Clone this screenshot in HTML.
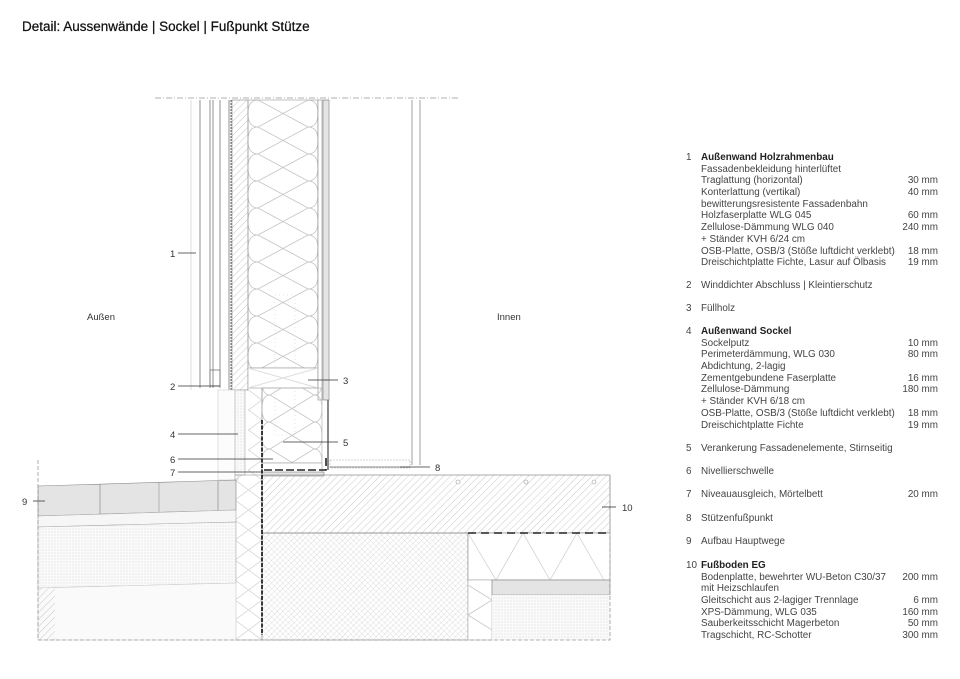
<!DOCTYPE html>
<html><head><meta charset="utf-8"><style>
body{margin:0;width:960px;height:679px;background:#fff;overflow:hidden;font-family:"Liberation Sans",sans-serif;position:relative}
.t{position:absolute;left:22px;top:19px;font-size:13.5px;color:#111;-webkit-text-stroke:0.25px #111}
.lg{position:absolute;left:686px;font-size:9.9px;color:#444;line-height:11.7px;width:252px}
.lg .n{position:absolute;left:0}
.lg .r{position:absolute;right:0}
.lg div{position:relative;padding-left:15px;height:11.7px;white-space:nowrap}
.lg b{color:#222}
</style></head><body>
<div class="t">Detail: Aussenwände | Sockel | Fußpunkt Stütze</div>
<svg width="960" height="679" style="position:absolute;left:0;top:0" font-family="Liberation Sans" font-size="9.5" fill="#333">
<defs>
<pattern id="hd" width="5" height="5" patternUnits="userSpaceOnUse" patternTransform="rotate(45)"><line x1="0" y1="0" x2="0" y2="5" stroke="#bbb" stroke-width="0.8"/></pattern>
<pattern id="cx" width="4" height="4" patternUnits="userSpaceOnUse" patternTransform="rotate(45)"><path d="M0 0V4M0 0H4" stroke="#c8c8c8" stroke-width="0.6"/></pattern>
<pattern id="dt" width="3" height="3" patternUnits="userSpaceOnUse"><rect width="3" height="3" fill="#fafafa"/><circle cx="1" cy="1" r="0.45" fill="#ccc"/></pattern>
<pattern id="dd" width="2" height="2" patternUnits="userSpaceOnUse"><rect width="2" height="2" fill="#f0f0f0"/><circle cx="1" cy="1" r="0.45" fill="#aaa"/></pattern>
<pattern id="ins" width="70" height="27" patternUnits="userSpaceOnUse" x="248" y="100"><path d="M10 0Q0 0 0 13.5Q0 27 10 27M60 0Q70 0 70 13.5Q70 27 60 27M10 0L60 27M60 0L10 27" fill="none" stroke="#c4c4c4" stroke-width="0.8"/></pattern>
<pattern id="ins2" width="60" height="27" patternUnits="userSpaceOnUse" x="262" y="395"><path d="M8 0Q0 0 0 13.5Q0 27 8 27M52 0Q60 0 60 13.5Q60 27 52 27M8 0L52 27M52 0L8 27" fill="none" stroke="#c4c4c4" stroke-width="0.8"/></pattern>
<pattern id="xx" width="27" height="40" patternUnits="userSpaceOnUse" x="235"><path d="M0 0L27 20L0 40M27 0L0 20L27 40" fill="none" stroke="#ccc" stroke-width="0.7"/></pattern>
</defs>
<line x1="155" y1="98" x2="460" y2="98" stroke="#999" stroke-dasharray="6,2,1,2" stroke-width="0.8"/>
<g stroke="#777" stroke-width="0.8" fill="none">
<line x1="200" y1="100" x2="200" y2="388"/><line x1="210" y1="100" x2="210" y2="388"/>
<line x1="213" y1="100" x2="213" y2="388"/><line x1="220" y1="100" x2="220" y2="388"/>
<line x1="229" y1="100" x2="229" y2="390"/><line x1="231" y1="100" x2="231" y2="390" stroke="#333" stroke-dasharray="2,1"/>
<rect x="210" y="370" width="10" height="16"/>
</g>
<line x1="191" y1="100" x2="191" y2="390" stroke="#ddd"/>
<rect x="232" y="100" width="16" height="290" fill="url(#hd)" stroke="#888" stroke-width="0.6"/>
<rect x="248" y="100" width="70" height="268" fill="url(#ins)" stroke="#999" stroke-width="0.6"/>
<rect x="275" y="295" width="20" height="140" fill="none" stroke="#ddd" stroke-dasharray="1,3" stroke-width="0.8"/>
<rect x="248" y="368" width="70" height="20" fill="#fff" stroke="#999" stroke-width="0.6"/>
<line x1="248" y1="368" x2="318" y2="388" stroke="#ddd"/><line x1="248" y1="388" x2="318" y2="368" stroke="#ddd"/>
<rect x="318" y="100" width="4" height="300" fill="#fff" stroke="#888" stroke-width="0.6"/>
<rect x="323" y="100" width="6" height="300" fill="url(#dd)" stroke="#777" stroke-width="0.6"/>
<g stroke="#888" stroke-width="0.8"><line x1="412" y1="100" x2="412" y2="465"/><line x1="420" y1="100" x2="420" y2="465"/><line x1="262" y1="388" x2="262" y2="475"/></g>
<rect x="218" y="390" width="20" height="90" fill="#fcfcfc" stroke="#ccc" stroke-width="0.6"/>
<rect x="235" y="390" width="10" height="85" fill="url(#dt)" stroke="#aaa" stroke-width="0.6"/>
<rect x="248" y="390" width="14" height="85" fill="url(#xx)"/>
<rect x="262" y="388" width="60" height="75" fill="url(#ins2)" stroke="#aaa" stroke-width="0.6"/>
<rect x="262" y="463" width="60" height="12" fill="#fff" stroke="#999" stroke-width="0.6"/>
<rect x="262" y="472" width="62" height="4" fill="url(#dd)" stroke="#777" stroke-width="0.5"/>
<path d="M328 400V470" stroke="#666" stroke-width="1.5"/>
<path d="M326 458V470H262" stroke="#222" stroke-width="1.6" fill="none" stroke-dasharray="8,3"/>
<rect x="330" y="460" width="80" height="8" fill="none" stroke="#aaa" stroke-dasharray="2,1" stroke-width="0.6"/>
<line x1="330" y1="467" x2="410" y2="467" stroke="#888"/>
<rect x="262" y="475" width="348" height="58" fill="url(#hd)" stroke="#888" stroke-width="0.7"/>
<g fill="#fff" stroke="#999" stroke-width="0.6"><circle cx="458" cy="482" r="2"/><circle cx="526" cy="482" r="2"/><circle cx="594" cy="482" r="2"/></g>
<rect x="262" y="533" width="206" height="107" fill="url(#cx)" stroke="#888" stroke-width="0.6"/>
<rect x="468" y="533" width="142" height="47" fill="#fff" stroke="#888" stroke-width="0.6"/>
<path d="M468 533L496 580L523 533L550 580L577 533L604 580" fill="none" stroke="#ccc" stroke-width="0.7"/>
<line x1="468" y1="533" x2="610" y2="533" stroke="#222" stroke-width="1.6" stroke-dasharray="8,5"/>
<rect x="468" y="580" width="24" height="60" fill="#fff" stroke="#aaa" stroke-width="0.6"/>
<path d="M468 585L492 600L468 615L492 630" fill="none" stroke="#ccc"/>
<rect x="492" y="580" width="118" height="15" fill="url(#dd)" stroke="#888" stroke-width="0.6"/>
<rect x="492" y="595" width="118" height="45" fill="url(#dt)"/>
<rect x="235" y="475" width="27" height="165" fill="url(#xx)" stroke="#999" stroke-width="0.6"/>
<path d="M262 420V635" stroke="#222" stroke-width="1.8" stroke-dasharray="4,1.5"/>
<path d="M38 486L236 480V510L38 516Z" fill="url(#dd)" stroke="#888" stroke-width="0.6"/>
<g stroke="#888" stroke-width="0.6"><line x1="100" y1="484" x2="100" y2="514"/><line x1="159" y1="482" x2="159" y2="512"/><line x1="218" y1="481" x2="218" y2="511"/></g>
<path d="M38 516L236 510V522L38 527Z" fill="#f6f6f6" stroke="#aaa" stroke-width="0.6"/>
<path d="M38 527L236 522V583L38 588Z" fill="url(#dt)" stroke="#aaa" stroke-width="0.6"/>
<path d="M38 588L236 583V640H38Z" fill="#fafafa" stroke="#ccc" stroke-width="0.6"/>
<rect x="38" y="588" width="17" height="52" fill="url(#hd)"/>
<g stroke="#999" stroke-dasharray="4,2" stroke-width="0.8" fill="none"><path d="M38 460V640H610V475"/></g>
<g stroke="#333" stroke-width="0.8">
<line x1="178" y1="253" x2="196" y2="253"/><line x1="178" y1="386" x2="220" y2="386"/>
<line x1="308" y1="380" x2="338" y2="380"/><line x1="178" y1="434" x2="238" y2="434"/>
<line x1="283" y1="442" x2="338" y2="442"/><line x1="178" y1="459" x2="273" y2="459"/>
<line x1="178" y1="472" x2="262" y2="472"/><line x1="400" y1="467" x2="430" y2="467"/>
<line x1="33" y1="501" x2="45" y2="501"/><line x1="602" y1="507" x2="616" y2="507"/>
</g>
<text x="170" y="257">1</text><text x="170" y="390">2</text><text x="343" y="384">3</text>
<text x="170" y="438">4</text><text x="343" y="446">5</text><text x="170" y="463">6</text>
<text x="170" y="476">7</text><text x="435" y="471">8</text><text x="22" y="505">9</text><text x="622" y="511">10</text>
<text x="87" y="320">Außen</text><text x="497" y="320">Innen</text>
</svg>
<div class="lg" style="top:152px">
<div><span class="n">1</span><b>Außenwand Holzrahmenbau</b></div>
<div>Fassadenbekleidung hinterlüftet</div>
<div>Traglattung (horizontal)<span class="r">30 mm</span></div>
<div>Konterlattung (vertikal)<span class="r">40 mm</span></div>
<div>bewitterungsresistente Fassadenbahn</div>
<div>Holzfaserplatte WLG 045<span class="r">60 mm</span></div>
<div>Zellulose-Dämmung WLG 040<span class="r">240 mm</span></div>
<div>+ Ständer KVH 6/24 cm</div>
<div>OSB-Platte, OSB/3 (Stöße luftdicht verklebt)<span class="r">18 mm</span></div>
<div>Dreischichtplatte Fichte, Lasur auf Ölbasis<span class="r">19 mm</span></div>
</div>
<div class="lg" style="top:280px"><div><span class="n">2</span>Winddichter Abschluss | Kleintierschutz</div></div>
<div class="lg" style="top:303px"><div><span class="n">3</span>Füllholz</div></div>
<div class="lg" style="top:326px">
<div><span class="n">4</span><b>Außenwand Sockel</b></div>
<div>Sockelputz<span class="r">10 mm</span></div>
<div>Perimeterdämmung, WLG 030<span class="r">80 mm</span></div>
<div>Abdichtung, 2-lagig</div>
<div>Zementgebundene Faserplatte<span class="r">16 mm</span></div>
<div>Zellulose-Dämmung<span class="r">180 mm</span></div>
<div>+ Ständer KVH 6/18 cm</div>
<div>OSB-Platte, OSB/3 (Stöße luftdicht verklebt)<span class="r">18 mm</span></div>
<div>Dreischichtplatte Fichte<span class="r">19 mm</span></div>
</div>
<div class="lg" style="top:443px"><div><span class="n">5</span>Verankerung Fassadenelemente, Stirnseitig</div></div>
<div class="lg" style="top:466px"><div><span class="n">6</span>Nivellierschwelle</div></div>
<div class="lg" style="top:489px"><div><span class="n">7</span>Niveauausgleich, Mörtelbett<span class="r">20 mm</span></div></div>
<div class="lg" style="top:513px"><div><span class="n">8</span>Stützenfußpunkt</div></div>
<div class="lg" style="top:536px"><div><span class="n">9</span>Aufbau Hauptwege</div></div>
<div class="lg" style="top:560px">
<div><span class="n">10</span><b>Fußboden EG</b></div>
<div>Bodenplatte, bewehrter WU-Beton C30/37<span class="r">200 mm</span></div>
<div>mit Heizschlaufen</div>
<div>Gleitschicht aus 2-lagiger Trennlage<span class="r">6 mm</span></div>
<div>XPS-Dämmung, WLG 035<span class="r">160 mm</span></div>
<div>Sauberkeitsschicht Magerbeton<span class="r">50 mm</span></div>
<div>Tragschicht, RC-Schotter<span class="r">300 mm</span></div>
</div>
</body></html>
